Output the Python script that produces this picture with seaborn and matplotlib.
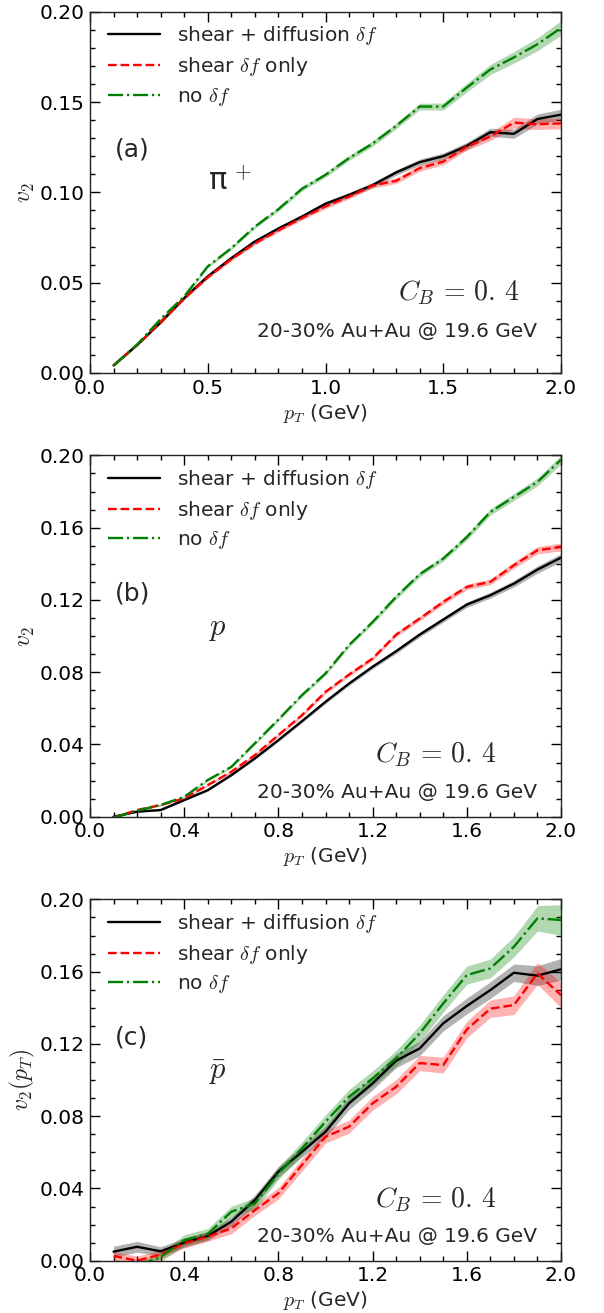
import numpy as np
import pandas as pd
import matplotlib
matplotlib.use("Agg")
import matplotlib.pyplot as plt
from matplotlib.ticker import MultipleLocator, FormatStrFormatter
import seaborn as sns

# ---------------- data ----------------
pt = [0.1, 0.2, 0.3, 0.4, 0.5, 0.6, 0.7, 0.8, 0.9, 1.0,
      1.1, 1.2, 1.3, 1.4, 1.5, 1.6, 1.7, 1.8, 1.9, 2.0]

# (a) pi+
a_full = [0.0042, 0.0155, 0.0280, 0.0415, 0.0535, 0.0636, 0.0728, 0.0800, 0.0866, 0.0937,
          0.0986, 0.1040, 0.1110, 0.1167, 0.1200, 0.1257, 0.1333, 0.1324, 0.1406, 0.1430]
a_shear = [0.0042, 0.0155, 0.0280, 0.0412, 0.0530, 0.0630, 0.0718, 0.0790, 0.0858, 0.0922,
           0.0977, 0.1038, 0.1064, 0.1134, 0.1170, 0.1253, 0.1309, 0.1386, 0.1377, 0.1382]
a_none = [0.0042, 0.0157, 0.0299, 0.0424, 0.0590, 0.0691, 0.0810, 0.0907, 0.1020, 0.1097,
          0.1190, 0.1270, 0.1368, 0.1475, 0.1475, 0.1580, 0.1680, 0.1747, 0.1820, 0.1910]
a_full_err = [0.0005, 0.0005, 0.0006, 0.0007, 0.0008, 0.0009, 0.0010, 0.0010, 0.0011, 0.0012,
              0.0013, 0.0014, 0.0015, 0.0017, 0.0018, 0.0020, 0.0022, 0.0025, 0.0028, 0.0030]
a_shear_err = [0.0005, 0.0005, 0.0006, 0.0007, 0.0008, 0.0009, 0.0010, 0.0010, 0.0011, 0.0012,
               0.0013, 0.0014, 0.0015, 0.0017, 0.0018, 0.0020, 0.0022, 0.0030, 0.0030, 0.0030]
a_none_err = [0.0005, 0.0005, 0.0006, 0.0007, 0.0008, 0.0009, 0.0010, 0.0011, 0.0012, 0.0013,
              0.0014, 0.0015, 0.0016, 0.0018, 0.0020, 0.0024, 0.0028, 0.0032, 0.0036, 0.0040]

# (b) p
b_full = [0.0000, 0.0028, 0.0037, 0.0092, 0.0147, 0.0230, 0.0323, 0.0424, 0.0529, 0.0636,
          0.0737, 0.0830, 0.0916, 0.1008, 0.1091, 0.1174, 0.1226, 0.1290, 0.1368, 0.1434]
b_shear = [-0.0005, 0.0037, 0.0065, 0.0101, 0.0175, 0.0249, 0.0341, 0.0452, 0.0562, 0.0691,
           0.0787, 0.0876, 0.1008, 0.1097, 0.1189, 0.1272, 0.1300, 0.1392, 0.1475, 0.1493]
b_none = [-0.0005, 0.0033, 0.0065, 0.0110, 0.0203, 0.0276, 0.0406, 0.0538, 0.0673, 0.0793,
          0.0950, 0.1078, 0.1217, 0.1342, 0.1429, 0.1548, 0.1687, 0.1770, 0.1853, 0.1976]
b_full_err = [0.0004, 0.0004, 0.0005, 0.0005, 0.0006, 0.0006, 0.0007, 0.0008, 0.0009, 0.0010,
              0.0010, 0.0011, 0.0012, 0.0013, 0.0014, 0.0015, 0.0016, 0.0018, 0.0020, 0.0022]
b_shear_err = [0.0004, 0.0004, 0.0005, 0.0005, 0.0006, 0.0006, 0.0007, 0.0008, 0.0009, 0.0010,
               0.0010, 0.0011, 0.0012, 0.0013, 0.0014, 0.0015, 0.0016, 0.0018, 0.0020, 0.0022]
b_none_err = [0.0004, 0.0004, 0.0005, 0.0005, 0.0006, 0.0006, 0.0007, 0.0008, 0.0009, 0.0010,
              0.0011, 0.0012, 0.0013, 0.0014, 0.0015, 0.0016, 0.0018, 0.0020, 0.0022, 0.0024]

# (c) anti-proton
c_full = [0.0050, 0.0077, 0.0052, 0.0100, 0.0137, 0.0216, 0.0336, 0.0493, 0.0603, 0.0714,
          0.0871, 0.0982, 0.1107, 0.1175, 0.1314, 0.1410, 0.1498, 0.1594, 0.1578, 0.1613]
c_shear = [0.0026, 0.0000, 0.0034, 0.0096, 0.0133, 0.0179, 0.0280, 0.0373, 0.0530, 0.0686,
           0.0742, 0.0871, 0.0963, 0.1094, 0.1083, 0.1280, 0.1395, 0.1415, 0.1590, 0.1470]
c_none = [-0.0020, -0.0030, 0.0020, 0.0114, 0.0148, 0.0271, 0.0317, 0.0483, 0.0622, 0.0769,
          0.0908, 0.1009, 0.1120, 0.1258, 0.1424, 0.1581, 0.1618, 0.1738, 0.1895, 0.1886]
c_full_err = [0.0030, 0.0030, 0.0025, 0.0025, 0.0025, 0.0025, 0.0028, 0.0030, 0.0030, 0.0032,
              0.0034, 0.0036, 0.0038, 0.0040, 0.0042, 0.0044, 0.0046, 0.0048, 0.0055, 0.0060]
c_shear_err = [0.0025, 0.0025, 0.0025, 0.0025, 0.0025, 0.0030, 0.0030, 0.0032, 0.0034, 0.0035,
               0.0036, 0.0038, 0.0040, 0.0042, 0.0044, 0.0046, 0.0048, 0.0052, 0.0060, 0.0070]
c_none_err = [0.0025, 0.0025, 0.0025, 0.0030, 0.0030, 0.0030, 0.0032, 0.0034, 0.0036, 0.0038,
              0.0040, 0.0042, 0.0044, 0.0046, 0.0048, 0.0050, 0.0052, 0.0056, 0.0070, 0.0085]

series_labels = [r"shear + diffusion $\delta f$", r"shear $\delta f$ only", r"no $\delta f$"]
panel_tags = ["(a)", "(b)", "(c)"]
particle_labels = [r"π$^{\,+}$", r"$p$", r"$\bar{p}$"]
ylabels = [r"$v_2$", r"$v_2$", r"$v_2(p_T)$"]
xmajor = [0.5, 0.4, 0.4]
ymajor = [0.05, 0.04, 0.04]
cb_text = r"$C_B\,=\,0.\,4$"
info_text = "20-30% Au+Au @ 19.6 GeV"

panels = [
    (a_full, a_shear, a_none, a_full_err, a_shear_err, a_none_err),
    (b_full, b_shear, b_none, b_full_err, b_shear_err, b_none_err),
    (c_full, c_shear, c_none, c_full_err, c_shear_err, c_none_err),
]

# ---------------- style ----------------
sns.set_theme(style="ticks")
plt.rcParams["font.family"] = ["DejaVu Sans"]
plt.rcParams["mathtext.fontset"] = "cm"
plt.rcParams["axes.linewidth"] = 1.0

colors = ["black", "red", "green"]
dashes = ["-", "--", "-."]

fig = plt.figure(figsize=(6.04, 13.13), dpi=100)
left, width, height = 90 / 604, 471 / 604, 361.3 / 1313
bottoms = [1 - 373 / 1313, 1 - 816.7 / 1313, 1 - 1260.7 / 1313]
cb_pos = [(0.654, 0.222), (0.605, 0.171), (0.605, 0.168)]
info_pos = [(0.355, 0.116), (0.355, 0.068), (0.355, 0.066)]
part_y = [0.53, 0.52, 0.52]

for i, (full, shear, none, efull, eshear, enone) in enumerate(panels):
    ax = fig.add_axes([left, bottoms[i], width, height])
    vals = [full, shear, none]
    errs = [efull, eshear, enone]
    for v, e, c in zip(vals, errs, colors):
        v = np.asarray(v); e = np.asarray(e)
        ax.fill_between(pt, v - e, v + e, color=c, alpha=0.3, lw=0)
    df = pd.DataFrame({
        "pt": pt * 3,
        "v2": full + shear + none,
        "kind": sum([[lab] * len(pt) for lab in series_labels], []),
    })
    for lab, c, ls in zip(series_labels, colors, dashes):
        sub = df[df["kind"] == lab]
        sns.lineplot(data=sub, x="pt", y="v2", ax=ax, color=c, linestyle=ls,
                     lw=1.7, label=lab, errorbar=None)

    ax.set_xlim(0.0, 2.0)
    ax.set_ylim(0.0, 0.2)
    ax.xaxis.set_major_locator(MultipleLocator(xmajor[i]))
    ax.xaxis.set_minor_locator(MultipleLocator(0.1))
    ax.yaxis.set_major_locator(MultipleLocator(ymajor[i]))
    ax.yaxis.set_minor_locator(MultipleLocator(0.01))
    ax.xaxis.set_major_formatter(FormatStrFormatter("%.1f"))
    ax.yaxis.set_major_formatter(FormatStrFormatter("%.2f"))
    ax.tick_params(which="both", direction="in", top=True, right=True,
                   labelsize=14.5, colors="black")
    ax.tick_params(which="major", length=7, width=1.0, pad=4)
    ax.tick_params(which="minor", length=3.5, width=1.0)
    for sp in ax.spines.values():
        sp.set_visible(True)
        sp.set_color("#222222")

    ax.set_xlabel(r"$p_T$ (GeV)", fontsize=14.5, labelpad=3)
    ax.set_ylabel(ylabels[i], fontsize=17, labelpad=2)

    ax.legend(loc="upper left", bbox_to_anchor=(0.0376, 0.965),
              frameon=False, fontsize=14.5, handlelength=2.6,
              handletextpad=0.83, borderpad=0, borderaxespad=0,
              labelspacing=0.38)

    ax.text(0.053, 0.618, panel_tags[i], transform=ax.transAxes,
            fontsize=18, ha="left", va="center")
    ax.text(0.25, part_y[i], particle_labels[i], transform=ax.transAxes,
            fontsize=22, ha="left", va="center")
    ax.text(cb_pos[i][0], cb_pos[i][1], cb_text, transform=ax.transAxes,
            fontsize=20, ha="left", va="center")
    ax.text(info_pos[i][0], info_pos[i][1], info_text, transform=ax.transAxes,
            fontsize=14.5, ha="left", va="center")

fig.savefig("out.png", dpi=100)
